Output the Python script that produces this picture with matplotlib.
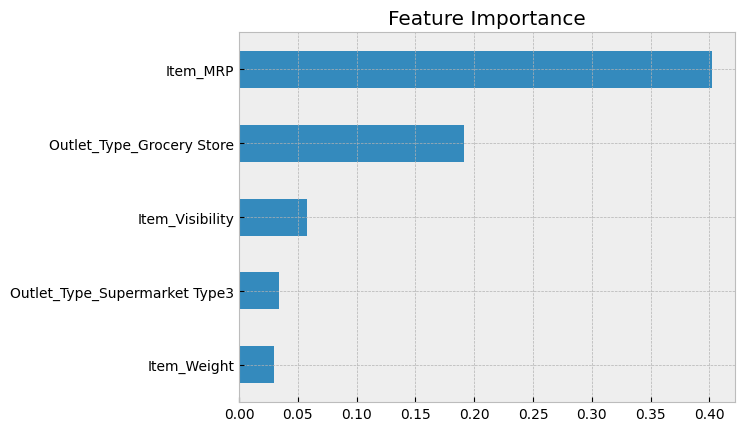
import matplotlib
matplotlib.use('Agg')
import matplotlib.pyplot as plt

plt.style.use('bmh')

# feature importance values
features = ['Item_Weight', 'Outlet_Type_Supermarket Type3', 'Item_Visibility',
            'Outlet_Type_Grocery Store', 'Item_MRP']
importance = [0.0298, 0.034, 0.0579, 0.1915, 0.402]

fig, ax = plt.subplots(figsize=(7.45, 4.31), dpi=100)
fig.subplots_adjust(left=0.321, right=0.987, top=0.9227, bottom=0.0655)

ax.barh(features, importance, height=0.5, color='#348ABD')
ax.set_ylim(-0.5, 4.5)
ax.set_title('Feature Importance')
ax.set_xticks([0.0, 0.05, 0.10, 0.15, 0.20, 0.25, 0.30, 0.35, 0.40])
ax.set_xticklabels(['0.00', '0.05', '0.10', '0.15', '0.20', '0.25', '0.30', '0.35', '0.40'])

plt.savefig('out.png', dpi=100)
